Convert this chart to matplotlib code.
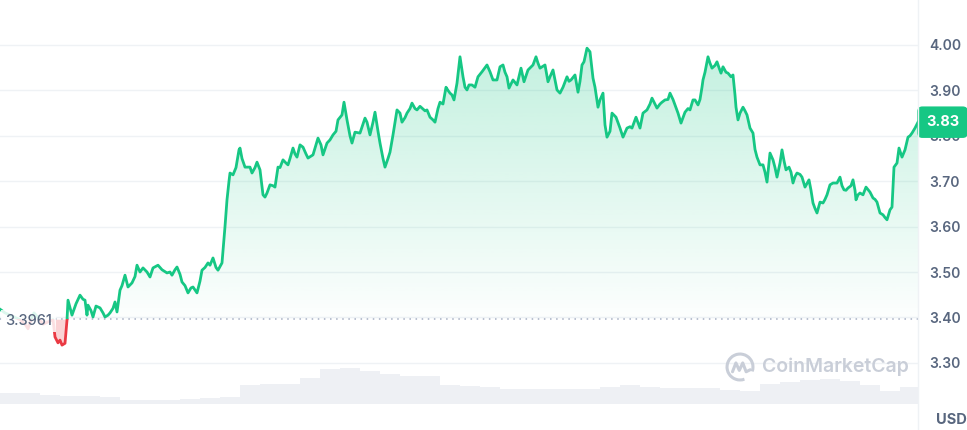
import numpy as np
import matplotlib.pyplot as plt
from matplotlib.patches import Rectangle, Arc
from matplotlib.lines import Line2D
import matplotlib.transforms as mtransforms

# price readings (t = time step along the week)
t = [0, 5, 10, 15, 20, 25, 28, 31, 34, 38, 43, 48, 53, 55, 58, 60, 62, 65, 67, 68,
     72, 76, 80, 83, 85, 87, 88, 91, 93, 96, 100, 103, 105, 108, 110, 113, 115, 117, 120, 122,
     125, 128, 132, 135, 137, 140, 143, 147, 150, 153, 158, 162, 167, 170, 172, 175, 177, 180, 182, 185,
     188, 191, 193, 197, 200, 202, 205, 208, 210, 213, 216, 218, 222, 225, 227, 229, 230, 233, 236, 239,
     240, 242, 245, 250, 252, 255, 257, 260, 263, 265, 267, 270, 273, 275, 278, 280, 283, 286, 288, 290,
     293, 295, 297, 300, 303, 306, 308, 313, 318, 321, 323, 327, 330, 333, 336, 338, 342, 344, 347, 350,
     352, 355, 360, 365, 367, 370, 373, 375, 378, 380, 383, 385, 388, 390, 393, 395, 397, 400, 402, 405,
     407, 410, 412, 415, 417, 420, 422, 425, 427, 430, 433, 435, 438, 440, 443, 446, 448, 450, 452, 454,
     457, 460, 463, 465, 467, 469, 472, 475, 478, 482, 485, 487, 490, 493, 497, 500, 503, 505, 507, 509,
     513, 517, 521, 524, 528, 533, 536, 538, 540, 545, 548, 550, 553, 557, 560, 563, 567, 569, 571, 575,
     578, 580, 582, 584, 587, 590, 593, 595, 598, 600, 603, 605, 607, 610, 612, 616, 620, 623, 627, 630,
     632, 636, 640, 643, 647, 650, 652, 655, 657, 660, 662, 665, 668, 670, 673, 675, 678, 681, 685, 688,
     690, 693, 695, 698, 700, 702, 703, 705, 708, 710, 712, 715, 717, 719, 721, 723, 726, 728, 731, 733,
     735, 736, 738, 740, 743, 745, 747, 750, 753, 755, 757, 760, 763, 765, 767, 770, 773, 775, 777, 780,
     782, 784, 786, 789, 791, 793, 795, 797, 800, 802, 805, 807, 809, 811, 813, 815, 817, 820, 823, 825,
     827, 830, 833, 837, 840, 842, 844, 846, 848, 851, 853, 855, 856, 858, 860, 863, 866, 870, 873, 875,
     877, 880, 883, 885, 887, 890, 892, 894, 897, 899, 902, 905, 908, 910, 912, 915, 918]
price = [3.418, 3.410, 3.405, 3.400, 3.395, 3.385, 3.375, 3.395, 3.410, 3.400, 3.385, 3.390, 3.395, 3.357, 3.344, 3.350, 3.339, 3.343, 3.394, 3.438,
         3.405, 3.430, 3.449, 3.440, 3.438, 3.405, 3.427, 3.415, 3.401, 3.425, 3.421, 3.410, 3.401, 3.405, 3.410, 3.420, 3.434, 3.412, 3.460, 3.470,
         3.493, 3.467, 3.476, 3.490, 3.515, 3.500, 3.509, 3.500, 3.489, 3.509, 3.515, 3.505, 3.498, 3.500, 3.493, 3.505, 3.511, 3.495, 3.478, 3.470,
         3.454, 3.465, 3.467, 3.454, 3.480, 3.504, 3.510, 3.520, 3.515, 3.531, 3.510, 3.504, 3.520, 3.600, 3.659, 3.700, 3.718, 3.714, 3.730, 3.769,
         3.773, 3.750, 3.731, 3.731, 3.718, 3.730, 3.742, 3.725, 3.670, 3.665, 3.674, 3.692, 3.690, 3.687, 3.731, 3.730, 3.747, 3.740, 3.736, 3.750,
         3.773, 3.760, 3.753, 3.780, 3.775, 3.760, 3.751, 3.758, 3.795, 3.780, 3.758, 3.784, 3.791, 3.802, 3.810, 3.835, 3.846, 3.874, 3.835, 3.800,
         3.784, 3.808, 3.806, 3.839, 3.830, 3.802, 3.830, 3.852, 3.810, 3.784, 3.750, 3.731, 3.750, 3.764, 3.802, 3.830, 3.857, 3.850, 3.830, 3.840,
         3.850, 3.860, 3.872, 3.860, 3.857, 3.865, 3.861, 3.855, 3.857, 3.841, 3.835, 3.830, 3.860, 3.874, 3.870, 3.907, 3.900, 3.894, 3.890, 3.879,
         3.916, 3.974, 3.930, 3.907, 3.901, 3.912, 3.912, 3.907, 3.930, 3.941, 3.950, 3.956, 3.941, 3.923, 3.923, 3.952, 3.956, 3.940, 3.930, 3.905,
         3.923, 3.912, 3.949, 3.919, 3.945, 3.956, 3.974, 3.960, 3.949, 3.956, 3.919, 3.930, 3.945, 3.901, 3.894, 3.907, 3.930, 3.920, 3.923, 3.934,
         3.896, 3.920, 3.956, 3.963, 3.993, 3.985, 3.927, 3.907, 3.863, 3.879, 3.894, 3.824, 3.797, 3.810, 3.850, 3.841, 3.817, 3.797, 3.817, 3.820,
         3.817, 3.841, 3.817, 3.850, 3.857, 3.870, 3.883, 3.870, 3.861, 3.870, 3.874, 3.879, 3.880, 3.894, 3.880, 3.868, 3.850, 3.828, 3.852, 3.860,
         3.857, 3.879, 3.879, 3.868, 3.880, 3.907, 3.923, 3.940, 3.974, 3.960, 3.949, 3.955, 3.963, 3.950, 3.938, 3.952, 3.940, 3.938, 3.930, 3.934,
         3.890, 3.863, 3.835, 3.850, 3.863, 3.855, 3.846, 3.817, 3.806, 3.770, 3.753, 3.736, 3.736, 3.720, 3.698, 3.762, 3.747, 3.730, 3.709, 3.740,
         3.769, 3.745, 3.725, 3.731, 3.720, 3.696, 3.710, 3.718, 3.715, 3.709, 3.687, 3.695, 3.703, 3.680, 3.652, 3.640, 3.630, 3.654, 3.652, 3.660,
         3.670, 3.692, 3.696, 3.696, 3.709, 3.690, 3.681, 3.680, 3.685, 3.690, 3.703, 3.680, 3.659, 3.670, 3.674, 3.670, 3.687, 3.676, 3.663, 3.660,
         3.654, 3.630, 3.626, 3.620, 3.615, 3.637, 3.643, 3.731, 3.740, 3.773, 3.753, 3.769, 3.797, 3.800, 3.806, 3.817, 3.830]

vol_t = list(range(0, 901, 20))
volume = [10, 10, 8, 7, 7, 6, 4, 4, 4, 4.5, 5.5, 6, 17, 18, 18.5, 24, 32, 33, 30, 27,
          26, 26, 17, 16.5, 16, 14, 14, 14, 13.5, 14, 16, 17, 16, 15, 15, 14.5, 13, 12, 18, 20,
          22, 23, 21, 17, 12, 16]

base_price = 3.3961
last_price = 3.83
yticks = [3.30, 3.40, 3.50, 3.60, 3.70, 3.80, 3.90, 4.00]

GREEN = '#16c784'
RED = '#ea3943'
GREY = '#58667e'

plt.rcParams['font.family'] = ['Inter', 'DejaVu Sans']

W, H = 967, 430
fig = plt.figure(figsize=(W / 100, H / 100), dpi=100)
rect = [0, 26 / H, 918 / W, 404 / H]

# volume underneath
axv = fig.add_axes(rect)
axv.bar(vol_t, volume, width=20, align='edge', color='#eef0f4', edgecolor='none')
axv.set_ylim(0, max(volume) * 11.2)
axv.set_xlim(0, 918)
axv.axis('off')

ax = fig.add_axes(rect, sharex=axv)
ax.patch.set_alpha(0)
ymin, ymax = 3.2093, 4.0991
ax.set_ylim(ymin, ymax)
ax.set_xlim(0, 918)

for y in yticks:
    ax.axhline(y, color='#eff2f5', lw=1, zorder=0)

p = np.array(price)

# green gradient area above the open price
poly = ax.fill_between(t, np.maximum(p, base_price), base_price, color='none', lw=0)
grad = np.zeros((256, 1, 4))
grad[:, :, :3] = np.array([22, 199, 132]) / 255
grad[:, 0, 3] = np.linspace(0.01, 0.26, 256)
img = ax.imshow(grad, extent=[0, 918, base_price, p.max()], origin='lower',
                aspect='auto', zorder=1, interpolation='bilinear')
img.set_clip_path(poly.get_paths()[0], transform=ax.transData)

# red area below
ax.fill_between(t, np.minimum(p, base_price), base_price, color=RED, alpha=0.22, lw=0, zorder=1)

up_clip = Rectangle((0, base_price), 918, 2, transform=ax.transData)
dn_clip = Rectangle((0, base_price - 2), 918, 2, transform=ax.transData)
g, = ax.plot(t, price, color=GREEN, lw=2, zorder=3, solid_joinstyle='round')
g.set_clip_path(up_clip)
r, = ax.plot(t, price, color=RED, lw=2, zorder=3, solid_joinstyle='round')
r.set_clip_path(dn_clip)

ax.axhline(base_price, color='#a6b0c3', lw=1.1, ls=(0, (1, 3)), zorder=2)

ax.text(5, base_price - 0.004, '3.3961', ha='left', va='center', fontsize=10.5, color=GREY,
        fontweight=500, zorder=4,
        bbox=dict(boxstyle='square,pad=0.25', fc='white', ec='none', alpha=0.85))

for s in ax.spines.values():
    s.set_visible(False)
ax.set_xticks([])
ax.yaxis.tick_right()
ax.set_yticks(yticks)
ax.set_yticklabels([f'{v:.2f}' for v in yticks])
ax.tick_params(axis='y', length=0, pad=8, labelsize=10, labelcolor=GREY)
for lab in ax.get_yticklabels():
    lab.set_fontweight(600)

# last price tag
trans = mtransforms.blended_transform_factory(ax.transAxes, ax.transData)
ax.text(1.0 + 8 / 918, last_price, f'{last_price:.2f}', transform=trans, ha='left', va='center',
        fontsize=10.5, color='white', fontweight='bold', zorder=6, clip_on=False,
        bbox=dict(boxstyle='round,pad=0.6,rounding_size=0.35', fc=GREEN, ec='none'))

fig.add_artist(Line2D([918 / W, 918 / W], [0, 1], color='#eff2f5', lw=1))
fig.text(951 / W, 1 - 420 / H, 'USD', ha='center', va='center', fontsize=10.5,
         fontweight='bold', color=GREY)

# watermark
fig.text(762 / W, 1 - 367 / H, 'CoinMarketCap', ha='left', va='center', fontsize=14,
         fontweight=600, color='#c9ced8')
lax = fig.add_axes([725 / W, 1 - 382 / H, 30 / W, 30 / H])
lax.set_xlim(-1.1, 1.1)
lax.set_ylim(-1.1, 1.1)
lax.axis('off')
lax.add_patch(Arc((0, 0), 1.9, 1.9, theta1=-20, theta2=290, color='#c9ced8', lw=2.2))
lax.plot([-0.55, -0.3, -0.05, 0.2, 0.45, 0.75], [-0.35, 0.3, -0.25, 0.3, -0.35, -0.2],
         color='#c9ced8', lw=2.2, solid_joinstyle='round', solid_capstyle='round')

fig.savefig('out.png', dpi=100)
